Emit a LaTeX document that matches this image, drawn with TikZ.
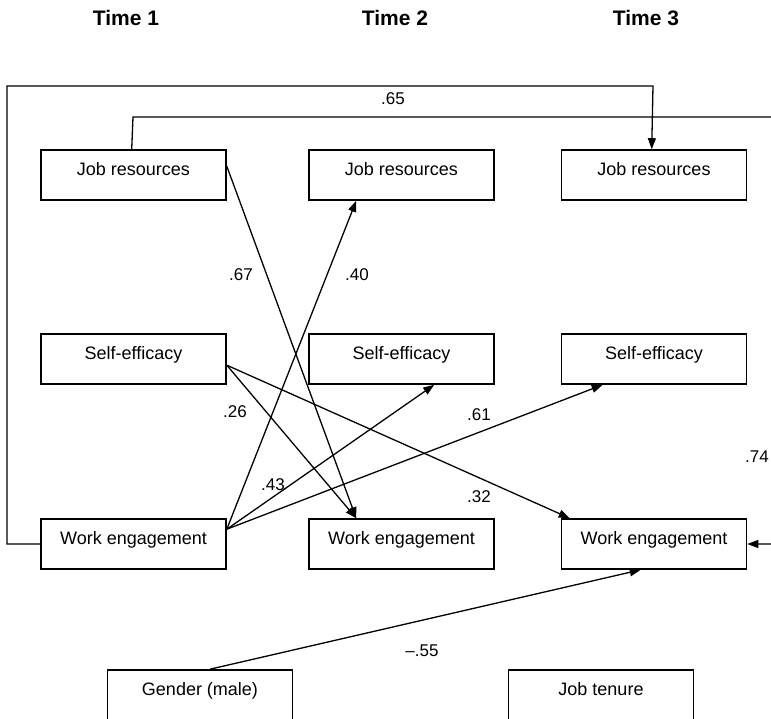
\documentclass[tikz,border=0pt]{standalone}
\usepackage{fontspec}
\setmainfont{Liberation Sans}
\usetikzlibrary{arrows.meta,calc}
\tikzset{
  box/.style={draw, line width=1.6pt, minimum width=185pt, minimum height=50pt, inner sep=0pt,
    text height=13pt, text depth=12pt, font=\fontsize{18}{20}\selectfont},
  hdr/.style={font=\fontsize{21}{24}\selectfont\bfseries, inner sep=0pt},
  coef/.style={font=\fontsize{17}{20}\selectfont, inner sep=0pt},
  conn/.style={line width=1.3pt, -{Triangle[length=11pt,width=8pt]}},
  plain/.style={line width=1.3pt}
}
\begin{document}
\begin{tikzpicture}[x=1pt,y=-1pt]
\useasboundingbox (0,0) rectangle (771,719);
\clip (0,0) rectangle (771,719);
% headers
\node[hdr] (t1) at (126,18) {Time 1};
\node[hdr] (t2) at (395,18) {Time 2};
\node[hdr] (t3) at (646,18) {Time 3};
% boxes
\node[box] (jr1) at (133.5,175) {Job resources};
\node[box] (jr2) at (401.5,175) {Job resources};
\node[box] (jr3) at (654,175) {Job resources};
\node[box] (se1) at (133.5,359) {Self-efficacy};
\node[box] (se2) at (401.5,359) {Self-efficacy};
\node[box] (se3) at (654,359) {Self-efficacy};
\node[box] (we1) at (133.5,544) {Work engagement};
\node[box] (we2) at (401.5,544) {Work engagement};
\node[box] (we3) at (654,544) {Work engagement};
\node[box] (gen) at (200,695) {Gender (male)};
\node[box] (ten) at (601,695) {Job tenure};
% elbow coordinates
\coordinate (a1) at (7,544);
\coordinate (a2) at (7,86);
\coordinate (a3) at (653,86);
\coordinate (b1) at (133,117);
\coordinate (b2) at (790,117);
\coordinate (b3) at (790,544);
% long paths
\draw[conn] (we1.west) -- (a1) -- (a2) -- (a3) -- ($(jr3.north west)+(91,0)$);
\draw[conn] ($(jr1.north west)+(91.5,0)$) -- (b1) -- (b2) -- (b3) -- (we3.east);
% cross-lagged paths
\draw[conn] ($(jr1.north east)+(0,17)$) -- ($(we2.north west)+(48,0)$);
\draw[conn] ($(se1.north east)+(0,32)$) -- ($(we2.north west)+(48,0)$);
\draw[conn] ($(se1.north east)+(0,32)$) -- ($(we3.north west)+(9,0)$);
\draw[conn] ($(we1.north east)+(0,11)$) -- ($(jr2.south west)+(48,0)$);
\draw[conn] ($(we1.north east)+(0,11)$) -- ($(se2.south west)+(126,0)$);
\draw[conn] ($(we1.north east)+(0,11)$) -- ($(se3.south west)+(42,0)$);
\draw[conn] ($(gen.north)+(10,0)$) -- ($(we3.south west)+(80,0)$);
% coefficients
\node[coef] (l65) at (393,99) {.65};
\node[coef] (l67) at (241,275) {.67};
\node[coef] (l40) at (357,275) {.40};
\node[coef] (l26) at (235,412) {.26};
\node[coef] (l43) at (273,485) {.43};
\node[coef] (l61) at (479,415) {.61};
\node[coef] (l32) at (479,497) {.32};
\node[coef] (l74) at (757,457) {.74};
\node[coef] (l55) at (422,651) {--.55};
\end{tikzpicture}
\end{document}
